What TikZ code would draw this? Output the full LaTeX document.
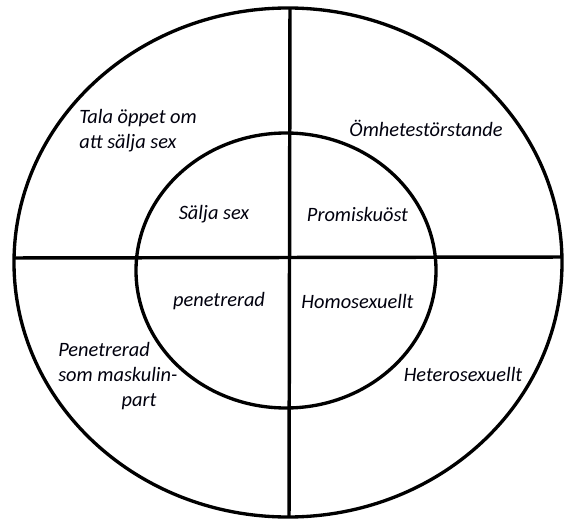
\documentclass[tikz,border=0pt]{standalone}
\usepackage{fontspec}
\setmainfont{Carlito}
\begin{document}
\begin{tikzpicture}[x=0.75pt,y=-0.75pt,
  ring/.style={draw=black,line width=2.5pt},
  axis/.style={draw=black,line width=2.6pt},
  lbl/.style={inner sep=0pt,font=\fontsize{15.3}{18.75}\selectfont\itshape,text=black!95!blue}]
\useasboundingbox (0,0) rectangle (567,520);
\draw[ring] (288,262.5) ellipse [x radius=274, y radius=254.5];
\draw[ring] (286,270.5) ellipse [x radius=150, y radius=137.5];
\coordinate (L) at (14,258);
\coordinate (R) at (562,257);
\coordinate (T) at (290,8);
\coordinate (B) at (289,517);
\draw[axis] (L) -- (R);
\draw[axis] (T) -- (B);
\node[lbl,anchor=west,align=left] (tl) at (79,130.5) {Tala öppet om\\att sälja sex};
\node[lbl] (tr) at (426,128) {Ömhetestörstande};
\node[lbl] (ia) at (214,214) {Sälja sex};
\node[lbl] (ib) at (357.5,214) {Promiskuöst};
\node[lbl] (ic) at (219,301) {penetrerad};
\node[lbl] (id) at (357.5,301) {Homosexuellt};
\node[lbl,anchor=west,align=left] (bl) at (58,376.5) {Penetrerad\\som maskulin-\\\hspace*{47.5pt}part};
\node[lbl] (br) at (463,374) {Heterosexuellt};
\end{tikzpicture}
\end{document}
